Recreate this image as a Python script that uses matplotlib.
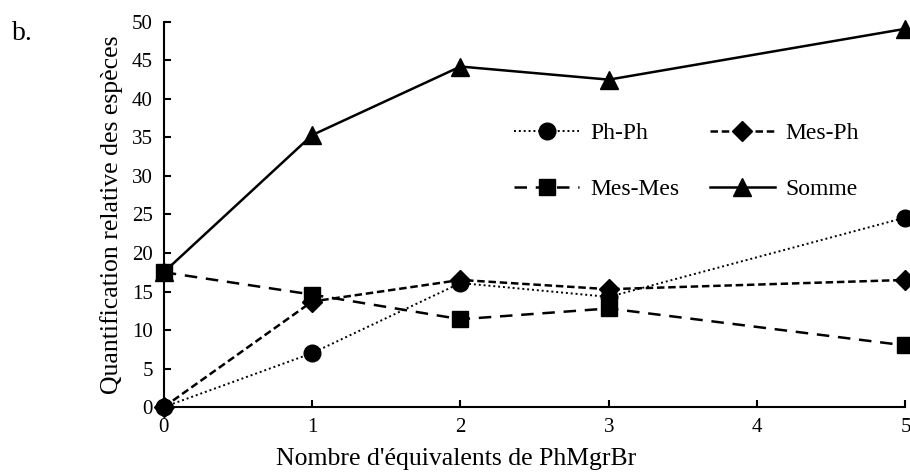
import numpy as np
import matplotlib
matplotlib.use('Agg')
import matplotlib.pyplot as plt

plt.rcParams['font.family'] = ['Liberation Serif', 'DejaVu Serif']

equivalents = [0, 1, 2, 3, 5]
ph_ph = [0, 7.0, 16.1, 14.3, 24.6]
mes_ph = [0, 13.7, 16.5, 15.3, 16.5]
mes_mes = [17.5, 14.6, 11.4, 12.8, 8.0]
somme = [17.5, 35.3, 44.2, 42.5, 49.1]


def main():
	fig = plt.figure(figsize=(9.1, 4.75), dpi=100)
	ax = fig.add_axes([0.18, 0.143, 0.815, 0.811])

	ms = 12
	l1, = ax.plot(equivalents, ph_ph, color='black', lw=1.4, linestyle=(0, (1, 1.5)),
			marker='o', ms=ms, label='Ph-Ph', clip_on=False, zorder=3)
	l2, = ax.plot(equivalents, mes_ph, color='black', lw=1.8, linestyle=(0, (3, 1.5)),
			marker='D', ms=ms - 2, label='Mes-Ph', clip_on=False, zorder=3)
	l3, = ax.plot(equivalents, mes_mes, color='black', lw=1.8, linestyle=(0, (5, 3.5)),
			marker='s', ms=ms, label='Mes-Mes', clip_on=False, zorder=3)
	l4, = ax.plot(equivalents, somme, color='black', lw=1.8, linestyle='-',
			marker='^', ms=ms + 1, label='Somme', clip_on=False, zorder=3)

	ax.set_xlim(0, 5)
	ax.set_ylim(0, 50)
	ax.set_xticks(range(0, 6))
	ax.set_yticks(range(0, 51, 5))
	ax.tick_params(direction='in', length=5, width=1.5, labelsize=15, pad=8)
	ax.spines['top'].set_visible(False)
	ax.spines['right'].set_visible(False)
	for s in ('left', 'bottom'):
		ax.spines[s].set_linewidth(1.5)

	ax.set_xlabel("Nombre d'équivalents de PhMgrBr", fontsize=18.5)
	ax.xaxis.set_label_coords(0.394, -0.105)
	ax.set_ylabel('Quantification relative des espèces', fontsize=18.5, labelpad=6)

	# column-wise fill, so order gives rows Ph-Ph/Mes-Ph and Mes-Mes/Somme
	ax.legend([l1, l3, l2, l4], ['Ph-Ph', 'Mes-Mes', 'Mes-Ph', 'Somme'],
			  ncol=2, frameon=False, fontsize=17, loc='center',
			  bbox_to_anchor=(0.705, 0.638), labelspacing=1.45, columnspacing=1.3,
			  handlelength=2.75, handletextpad=0.45)

	fig.text(0.013, 0.915, 'b.', fontsize=20)

	fig.savefig('out.png', dpi=100)


if __name__ == '__main__':
	main()
